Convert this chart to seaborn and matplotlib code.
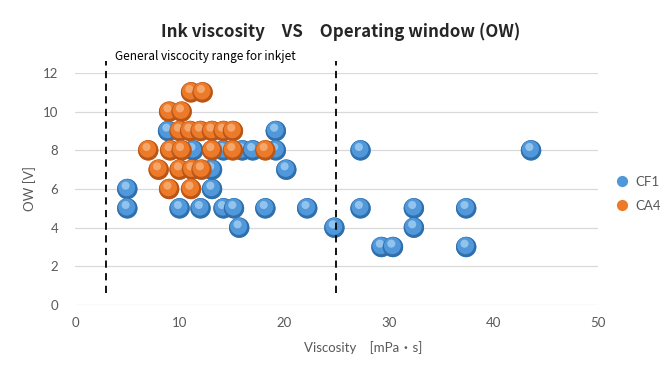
import pandas as pd
import matplotlib.pyplot as plt
import seaborn as sns
from matplotlib.transforms import offset_copy

# CF1 points
cf1_visc = [5, 5, 10, 12, 14.2, 15.2, 15.7, 18.2, 22.2, 24.8, 13.1, 13.1, 20.2,
            8.9, 19.2, 11.3, 14.2, 16, 17, 19.2, 27.3, 27.3, 29.3, 30.4,
            32.4, 32.4, 37.4, 37.4, 43.6]
cf1_ow = [6, 5, 5, 5, 5, 5, 4, 5, 5, 4, 6, 7, 7,
          9, 9, 8, 8, 8, 8, 8, 8, 5, 3, 3,
          5, 4, 5, 3, 8]

# CA4 points
ca4_visc = [11.1, 12.2, 9, 10.2, 10, 11, 12, 13.1, 14.2, 15.1,
            7, 9.1, 10.2, 13.1, 15.1, 18.2, 8, 10, 11.2, 12.1, 9, 11.1]
ca4_ow = [11, 11, 10, 10, 9, 9, 9, 9, 9, 9,
          8, 8, 8, 8, 8, 8, 7, 7, 7, 7, 6, 6]

series_names = ["CF1", "CA4"]
x_ticks = [0, 10, 20, 30, 40, 50]
y_ticks = [0, 2, 4, 6, 8, 10, 12]
range_lines = [3, 25]

df = pd.concat([
    pd.DataFrame({"Viscosity": cf1_visc, "OW": cf1_ow, "series": "CF1"}),
    pd.DataFrame({"Viscosity": ca4_visc, "OW": ca4_ow, "series": "CA4"}),
], ignore_index=True)

sns.set_theme(style="white")
plt.rcParams["font.family"] = ["Lato", "Noto Sans CJK JP", "DejaVu Sans"]

# base, mid, highlight colours for the glossy look
shades = {
    "CF1": ("#2f6fab", "#5098da", "#a4cef2"),
    "CA4": ("#b8561a", "#ec7a28", "#f8b27c"),
}

fig = plt.figure(figsize=(6.6, 3.7), dpi=100)
ax = fig.add_axes([0.1136, 0.1757, 0.7924, 0.627])

# seaborn draws the points (and gives the legend); the loop below shades them
sns.scatterplot(data=df, x="Viscosity", y="OW", hue="series", hue_order=series_names,
                palette={k: v[1] for k, v in shades.items()}, s=215,
                edgecolor="none", ax=ax, legend=True, zorder=2)

hl = offset_copy(ax.transData, fig=fig, x=-1.2, y=2.4, units="points")
mid_tr = offset_copy(ax.transData, fig=fig, x=-0.4, y=0.9, units="points")
z = 3
for i, row in df.iterrows():
    dark, mid, light = shades[row["series"]]
    ax.scatter(row["Viscosity"], row["OW"], s=215, color=dark, edgecolor="none", zorder=z)
    ax.scatter(row["Viscosity"], row["OW"], s=150, color=mid, edgecolor="none",
               zorder=z + 0.001, transform=mid_tr)
    ax.scatter(row["Viscosity"], row["OW"], s=34, color=light, edgecolor="none", alpha=0.8,
               zorder=z + 0.002, transform=hl)
    z += 0.01

ax.set_xlim(0, 50)
ax.set_ylim(0, 12)
ax.set_xticks(x_ticks)
ax.set_yticks(y_ticks)
ax.yaxis.grid(True, color="#d9d9d9", lw=0.9)
ax.xaxis.grid(False)
for s in ax.spines.values():
    s.set_visible(False)
ax.tick_params(axis="both", colors="#595959", labelsize=9.5, length=0)
ax.tick_params(axis="x", pad=9)
ax.tick_params(axis="y", pad=12)
ax.set_xlabel("")
ax.set_ylabel("")

# dashed lines marking the usual inkjet viscosity range
for xv in range_lines:
    ax.plot([xv, xv], [0.6, 12.6], color="black", lw=1.3, ls=(0, (4, 3)),
            clip_on=False, zorder=10)
ax.text(3.8, 12.85, "General viscocity range for inkjet", fontsize=8.5,
        family=["Noto Sans CJK JP", "DejaVu Sans"], color="black", va="center")

handles, labels = ax.get_legend_handles_labels()
ax.legend(handles, labels, loc="center left", bbox_to_anchor=(0.905, 0.476),
          bbox_transform=fig.transFigure, frameon=False, fontsize=9.5,
          markerscale=0.55, handletextpad=0.0, labelspacing=0.9, labelcolor="#595959")

fig.text(0.516, 0.915, "Ink viscosity\u3000VS\u3000Operating window (OW)",
         ha="center", va="center", fontsize=12.2, fontweight="bold",
         family=["Noto Sans CJK JP", "DejaVu Sans"])
fig.text(0.55, 0.062, "Viscosity\u3000[mPa\u30fbs]", ha="center", va="center",
         fontsize=9.5, color="#595959")
fig.text(0.045, 0.49, "OW [V]", ha="center", va="center", rotation=90,
         fontsize=9.5, color="#595959")

plt.savefig("out.png", dpi=100)
plt.close()
